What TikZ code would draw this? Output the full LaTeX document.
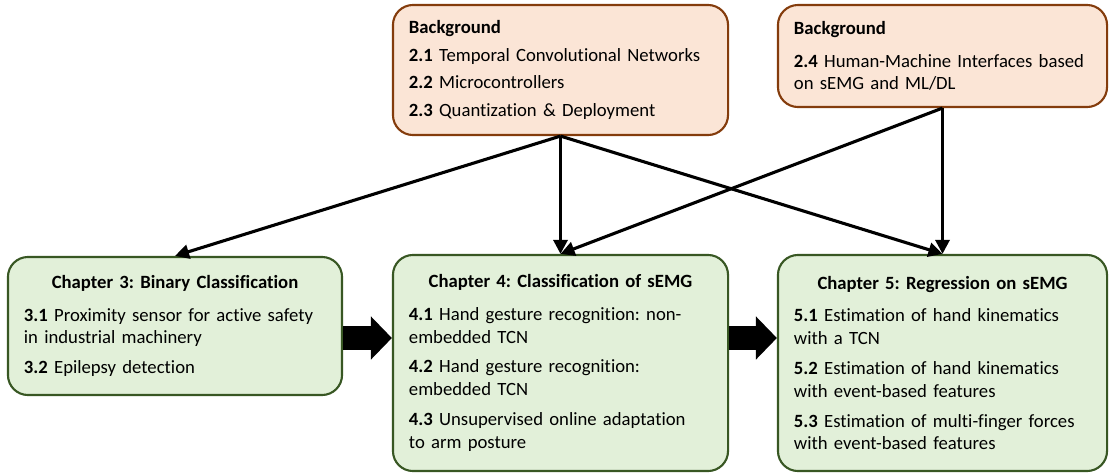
\documentclass[tikz,border=0pt]{standalone}
\usepackage{fontspec}
\setmainfont{Carlito}[Ligatures=NoCommon]
\usepackage{xcolor}
\usetikzlibrary{arrows.meta,positioning}
\definecolor{bgfill}{HTML}{FBE5D6}
\definecolor{bgline}{HTML}{843C0C}
\definecolor{chfill}{HTML}{E2F0D9}
\definecolor{chline}{HTML}{385723}
\frenchspacing

\begin{document}
\begin{tikzpicture}[x=0.025cm,y=-0.025cm,
  box/.style={rectangle,rounded corners=0.5cm,line width=1.5pt,align=left,
              inner xsep=0.4cm,inner ysep=0pt,font=\fontsize{13.3pt}{16.2pt}\selectfont},
  bgbox/.style={box,draw=bgline,fill=bgfill},
  chbox/.style={box,draw=chline,fill=chfill},
  link/.style={line width=2.2pt,-{Triangle[length=10pt,width=10pt]}},
  flow/.style={line width=0.62cm,-{Triangle[length=0.525cm,width=1.05cm]}}]
\useasboundingbox (0,0) rectangle (1109,474);

% background sections
\node[bgbox,text width=7.575cm,minimum height=3.25cm] (bg-a) at (560.5,70) {%
\textbf{Background}\\[3.5pt]
\textbf{2.1} Temporal Convolutional Networks\\[3.5pt]
\textbf{2.2} Microcontrollers\\[3.5pt]
\textbf{2.3} Quantization \& Deployment};
\node[bgbox,text width=7.425cm,minimum height=2.55cm] (bg-b) at (942.5,56) {%
\textbf{Background}\\[7pt]
\textbf{2.4} Human-Machine Interfaces based\\
on sEMG and ML/DL};

% chapters
\node[chbox,text width=7.55cm,minimum height=3.45cm] (ch3) at (175,326) {%
\makebox[\linewidth]{\textbf{Chapter 3: Binary Classification}}\\[7pt]
\textbf{3.1} Proximity sensor for active safety\\
in industrial machinery\\[5pt]
\textbf{3.2} Epilepsy detection};
\node[chbox,text width=7.575cm,minimum height=5.4cm] (ch4) at (560.5,363) {%
\makebox[\linewidth]{\textbf{Chapter 4: Classification of sEMG}}\\[7pt]
\textbf{4.1} Hand gesture recognition: non-\\
embedded TCN\\[5pt]
\textbf{4.2} Hand gesture recognition:\\
embedded TCN\\[5pt]
\textbf{4.3} Unsupervised online adaptation\\
to arm posture};
\node[chbox,text width=7.425cm,minimum height=5.4cm] (ch5) at (942.5,363) {%
\makebox[\linewidth]{\textbf{Chapter 5: Regression on sEMG}}\\[7pt]
\textbf{5.1} Estimation of hand kinematics\\
with a TCN\\[5pt]
\textbf{5.2} Estimation of hand kinematics\\
with event-based features\\[5pt]
\textbf{5.3} Estimation of multi-finger forces\\
with event-based features};

% dependencies
\draw[link] (bg-a.south) -- (ch3.north);
\draw[link] (bg-a.south) -- (ch4.north);
\draw[link] (bg-a.south) -- (ch5.north);
\draw[link] (bg-b.south) -- (ch4.north);
\draw[link] (bg-b.south) -- (ch5.north);

% reading order
\draw[flow] (ch3.east |- 0,338) -- (ch4.west |- 0,338);
\draw[flow] (ch4.east |- 0,338) -- (ch5.west |- 0,338);
\end{tikzpicture}
\end{document}
